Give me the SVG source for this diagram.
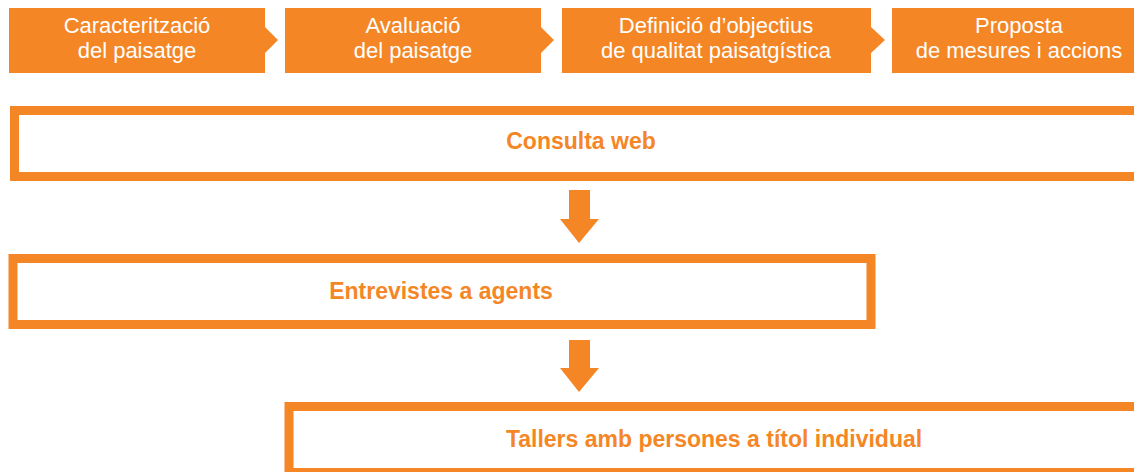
<svg xmlns="http://www.w3.org/2000/svg" width="1134" height="472" viewBox="0 0 1134 472">
<style>
.step{fill:#F58626}
.st{font-family:"Liberation Sans",Arial,sans-serif;font-size:22px;fill:#FFFFFF;text-anchor:middle}
.box{fill:#FFFFFF;stroke:#F58626;stroke-width:9}
.bt{font-family:"Liberation Sans",Arial,sans-serif;font-size:23px;font-weight:bold;fill:#F58626;text-anchor:middle}
.arr{fill:#F58626}
</style>
<rect width="1134" height="472" fill="#FFFFFF"/>
<g id="step1">
<path class="step" d="M9,8 H265 V27 L278,40 L265,53 V73 H9 Z"/>
<text class="st" x="137" y="33">Caracterització</text>
<text class="st" x="137" y="58">del paisatge</text>
</g>
<g id="step2">
<path class="step" d="M285,8 H541 V27 L554,40 L541,53 V73 H285 Z"/>
<text class="st" x="413" y="33">Avaluació</text>
<text class="st" x="413" y="58">del paisatge</text>
</g>
<g id="step3">
<path class="step" d="M562,8 H871 V27 L885,40 L871,53 V73 H562 Z"/>
<text class="st" x="716" y="33">Definició d’objectius</text>
<text class="st" x="716" y="58">de qualitat paisatgística</text>
</g>
<g id="step4">
<rect class="step" x="892" y="8" width="260" height="65"/>
<text class="st" x="1019" y="33">Proposta</text>
<text class="st" x="1019" y="58">de mesures i accions</text>
</g>
<g id="consulta">
<rect class="box" x="14.5" y="110.5" width="1140" height="66"/>
<text class="bt" x="581" y="149">Consulta web</text>
</g>
<g id="entrevistes">
<rect class="box" x="13" y="258.5" width="858" height="66"/>
<text class="bt" x="441" y="299">Entrevistes a agents</text>
</g>
<g id="tallers">
<rect class="box" x="289" y="406.5" width="860" height="66"/>
<text class="bt" x="714" y="447">Tallers amb persones a títol individual</text>
</g>
<g id="connectors">
<path class="arr" d="M569,190 H590 V219 H599 L579,243 L560,219 H569 Z"/>
<path class="arr" d="M569,340 H590 V368 H599 L579,392 L560,368 H569 Z"/>
</g>
</svg>
